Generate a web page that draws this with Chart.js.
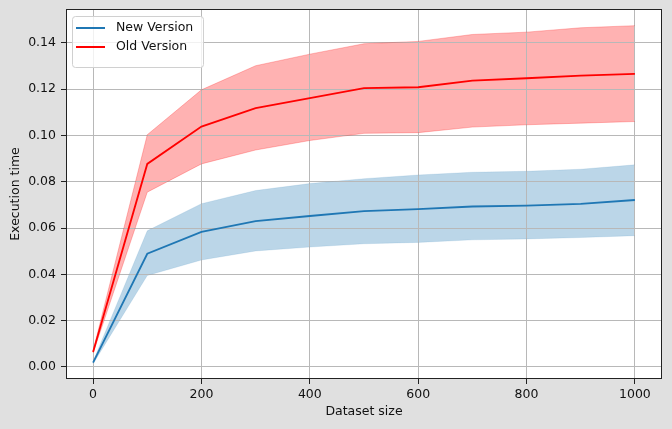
<!DOCTYPE html>
<html>
<head>
<meta charset="utf-8">
<script src="https://cdn.jsdelivr.net/npm/chart.js@4/dist/chart.umd.min.js"></script>
<style>
  body { margin: 0; background: #e0e0e0; }
  canvas { display: block; }
</style>
</head>
<body>
<canvas id="execChart" width="672" height="429"></canvas>
<script>
// dataset sizes on the x axis
var sizes = [0, 100, 200, 300, 400, 500, 600, 700, 800, 900, 1000];

// new version: mean and spread band
var newMean  = [0.0019, 0.0489, 0.0583, 0.0630, 0.0652, 0.0673, 0.0682, 0.0693, 0.0697, 0.0704, 0.0721];
var newUpper = [0.0024, 0.0588, 0.0705, 0.0762, 0.0792, 0.0813, 0.0829, 0.0841, 0.0845, 0.0854, 0.0873];
var newLower = [0.0014, 0.0395, 0.0462, 0.0501, 0.0518, 0.0532, 0.0538, 0.0549, 0.0553, 0.0559, 0.0567];

// old version: mean and spread band
var oldMean  = [0.0065, 0.0877, 0.1038, 0.1118, 0.1161, 0.1204, 0.1208, 0.1237, 0.1247, 0.1258, 0.1266];
var oldUpper = [0.0070, 0.1003, 0.1197, 0.1301, 0.1351, 0.1396, 0.1406, 0.1436, 0.1446, 0.1465, 0.1474];
var oldLower = [0.0060, 0.0755, 0.0877, 0.0937, 0.0978, 0.1009, 0.1012, 0.1036, 0.1046, 0.1053, 0.1060];

// tick labels
var xTicks = [0, 200, 400, 600, 800, 1000];
var yTicks = [0, 0.02, 0.04, 0.06, 0.08, 0.10, 0.12, 0.14];

var FONT = "'DejaVu Sans', sans-serif";

function pts(ys) {
    return sizes.map(function (x, i) { return { x: x, y: ys[i] }; });
}

// white plot background, grid over the bands, frame and boxed legend
var mplLook = {
    id: 'mplLook',
    beforeDraw: function (chart) {
        var a = chart.chartArea, ctx = chart.ctx;
        ctx.save();
        ctx.fillStyle = '#ffffff';
        ctx.fillRect(a.left, a.top, a.right - a.left, a.bottom - a.top);
        ctx.restore();
    },
    beforeDatasetsDraw: function (chart) {
        // fills are already drawn here, put the grid back over them
        chart.scales.x.drawGrid(chart.chartArea);
        chart.scales.y.drawGrid(chart.chartArea);
    },
    afterDraw: function (chart) {
        var a = chart.chartArea, ctx = chart.ctx;
        ctx.save();
        ctx.strokeStyle = '#222';
        ctx.lineWidth = 1;
        ctx.strokeRect(Math.round(a.left) + 0.5, Math.round(a.top) + 0.5,
                       Math.round(a.right - a.left) - 1, Math.round(a.bottom - a.top) - 1);

        // legend
        var items = chart.data.datasets.filter(function (d) { return d.inLegend; });
        var x0 = a.left + 6, y0 = a.top + 7, w = 131, h = 51, r = 3;
        ctx.beginPath();
        ctx.roundRect(x0 + 0.5, y0 + 0.5, w, h, r);
        ctx.fillStyle = 'rgba(255,255,255,0.8)';
        ctx.fill();
        ctx.strokeStyle = '#d0d0d0';
        ctx.stroke();
        ctx.font = '12.5px ' + FONT;
        ctx.textBaseline = 'middle';
        items.forEach(function (d, i) {
            var yy = y0 + 12 + i * 19;
            ctx.beginPath();
            ctx.moveTo(x0 + 4, yy);
            ctx.lineTo(x0 + 33, yy);
            ctx.strokeStyle = d.borderColor;
            ctx.lineWidth = 2;
            ctx.stroke();
            ctx.fillStyle = '#111';
            ctx.fillText(d.label, x0 + 44, yy);
        });
        ctx.restore();
    }
};

function noPad(scale) {
    scale.paddingTop = 0;
    scale.paddingBottom = 0;
    scale.paddingLeft = 0;
    scale.paddingRight = 0;
}

var ctx = document.getElementById('execChart').getContext('2d');
var execChart = new Chart(ctx, {
    type: 'line',
    data: {
        datasets: [
            { label: 'New Version', data: pts(newMean), borderColor: '#1f77b4', borderWidth: 1.8, inLegend: true, fill: false },
            { label: 'Old Version', data: pts(oldMean), borderColor: '#ff0000', borderWidth: 1.8, inLegend: true, fill: false },
            { label: 'new upper', data: pts(newUpper), borderColor: 'rgba(31,119,180,0.15)', borderWidth: 0.8,
              backgroundColor: 'rgba(31,119,180,0.3)', fill: '+1' },
            { label: 'new lower', data: pts(newLower), borderColor: 'rgba(31,119,180,0.15)', borderWidth: 0.8, fill: false },
            { label: 'old upper', data: pts(oldUpper), borderColor: 'rgba(255,0,0,0.3)', borderWidth: 0.8,
              backgroundColor: 'rgba(255,0,0,0.3)', fill: '+1' },
            { label: 'old lower', data: pts(oldLower), borderColor: 'rgba(255,0,0,0.3)', borderWidth: 0.8, fill: false }
        ]
    },
    options: {
        responsive: false,
        animation: false,
        layout: { padding: { left: 0, top: 9, right: 10, bottom: 0 } },
        elements: { point: { radius: 0 }, line: { tension: 0 } },
        plugins: {
            legend: { display: false },
            tooltip: { enabled: false },
            filler: { drawTime: 'beforeDatasetsDraw' }
        },
        scales: {
            x: {
                type: 'linear',
                min: -50,
                max: 1050,
                afterBuildTicks: function (scale) {
                    scale.ticks = xTicks.map(function (v) { return { value: v }; });
                },
                afterFit: function (scale) { scale.height = 50; noPad(scale); },
                grid: { color: '#b8b8b8', lineWidth: 1, tickLength: 5, tickColor: '#222' },
                border: { display: false },
                ticks: { color: '#111', padding: 3, maxRotation: 0, font: { family: FONT, size: 12.5 },
                         callback: function (v) { return String(v); } },
                title: { display: true, text: 'Dataset size', color: '#111',
                         font: { family: FONT, size: 12.5 }, padding: { top: 0, bottom: 10 } }
            },
            y: {
                type: 'linear',
                min: -0.0052,
                max: 0.1546,
                afterBuildTicks: function (scale) {
                    scale.ticks = yTicks.map(function (v) { return { value: v }; });
                },
                afterFit: function (scale) { scale.width = 66; noPad(scale); },
                grid: { color: '#b8b8b8', lineWidth: 1, tickLength: 5, tickColor: '#222' },
                border: { display: false },
                ticks: { color: '#111', padding: 5, font: { family: FONT, size: 12.5 },
                         callback: function (v) { return v.toFixed(2); } },
                title: { display: true, text: 'Execution time', color: '#111',
                         font: { family: FONT, size: 12.5 }, padding: { top: 8, bottom: 0 } }
            }
        }
    },
    plugins: [mplLook]
});
</script>
</body>
</html>
